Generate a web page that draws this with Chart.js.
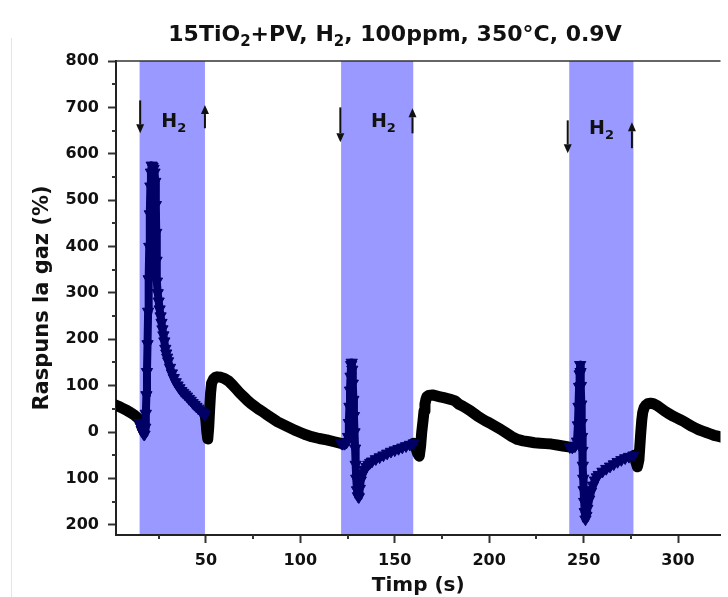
<!DOCTYPE html>
<html><head><meta charset="utf-8">
<script src="https://cdn.jsdelivr.net/npm/chart.js@4.4.1/dist/chart.umd.min.js"></script>
<style>html,body{margin:0;padding:0;background:#fff;overflow:hidden}canvas{display:block}</style>
</head><body>
<canvas id="c" width="728" height="597"></canvas>
<script>
// ---- data ----
const xTicks = [50, 100, 150, 200, 250, 300];
const xMinorTicks = [25, 75, 125, 175, 225, 275];
const yTicks = [-200, -100, 0, 100, 200, 300, 400, 500, 600, 700, 800];
const yMinorTicks = [-150, -50, 50, 150, 250, 350, 450, 550, 650, 750];

// H2 exposure windows (s)
const bandStart = [14.9, 121.6, 242.4];
const bandEnd = [49.5, 159.8, 276.4];

// air (black) series: time (s) and response (%) ; null = gap
const airTime = [2.4,4,6,8,10,12,14,15,16, 30,
  49.5,50,50.5,51,51.5,52,52.5,53,54,55,56,58,60,62,64,66,68,70,72,74,76,78,80,82,85,88,91,94,97,100,103,106,110,114,118,121,123, 140,
  160,161,162,163,163.7,164.3,165,165.5,166,166.5,167,168,170,172,174,176,178,180,182,184,186,188,190,192,194,196,198,200,203,206,209,212,215,218,221,224,227,230,233,236,239,242,244, 260,
  276.7,277.5,278.5,279.3,279.8,280.3,280.8,281.3,282,283,284,285.5,287,289,291,293,295,297,299,301,303,305,307,309,311,313,315,317,319,321,323];
const airResponse = [58,55,51,47,42,37,30,25,18, null,
  40,25,0,-15,10,50,85,105,114,118,119,118,115,110,102,93,84,76,68,61,55,49,44,38,30,22,16,10,4,-1,-6,-10,-14,-17,-21,-24,-25, null,
  -24,-32,-45,-52,-30,0,25,45,60,70,76,79,80,78,76,74,72,70,67,60,56,51,46,40,34,29,24,20,13,6,-2,-10,-16,-19,-21,-23,-24,-25,-26,-28,-30,-32,-33, null,
  -50,-62,-75,-60,-30,0,25,42,52,58,61,62,61,57,51,45,40,35,31,27,23,18,13,9,5,2,-1,-4,-7,-9,-11];

// H2 (navy) series: time (s) and response (%) ; null = gap
const h2Time = [15.0,15.5,16.0,16.5,17.0,17.5,17.9,18.2,18.5,18.8,19.1,19.4,19.7,20.0,20.3,20.6,20.9,21.3,21.8,22.3,22.8,23.2,23.5,23.7,23.9,24.1,24.5,25.0,25.5,26.0,26.5,27.0,27.5,28.0,28.5,29.0,29.5,30,31,32,33,34,35,36,37,38,39,40,41,42,43,44,45,46,47,48,49,49.5, 90,
  121.7,122.5,123.5,124.5,125.3,125.7,126.0,126.3,126.6,126.9,127.2,127.5,127.8,128.1,128.4,128.7,129.0,129.3,129.6,130.0,130.5,131.0,131.5,132,133,134,135,136,137,138,140,142,144,146,148,150,152,154,156,158,160, 200,
  242.7,244,245.5,246.5,247.0,247.3,247.6,247.9,248.2,248.4,248.6,248.8,249.0,249.2,249.4,249.6,249.8,250.0,250.3,250.6,251.0,251.5,252,253,254,255,256,257,258,260,262,264,266,268,270,272,274,276.4];
const h2Response = [20,12,5,0,-4,-5,10,40,80,130,190,260,330,400,470,530,560,575,572,568,560,540,490,430,370,325,300,282,265,250,236,222,209,196,180,170,161,153,139,127,117,108,101,95,89,85,81,77,72,68,63,59,55,51,47,43,40,38, null,
  -24,-25,-25,-22,-10,20,55,90,120,145,150,135,105,70,35,0,-35,-70,-100,-125,-138,-140,-122,-104,-90,-81,-75,-70,-66,-63,-58,-54,-50,-46,-42,-39,-36,-33,-30,-27,-24, null,
  -32,-33,-30,-20,15,55,98,125,145,130,100,60,20,-10,-40,-72,-100,-125,-150,-172,-188,-180,-165,-145,-128,-115,-104,-97,-92,-85,-79,-74,-69,-64,-60,-56,-53,-50];

const FONT = "'DejaVu Sans', 'Liberation Sans', sans-serif";

const airPoints = airTime.map((t, i) => ({x: t, y: airResponse[i]}));
const h2Points = h2Time.map((t, i) => ({x: t, y: h2Response[i]}));

function arrow(ctx, x, yTail, yHead) {
  const dir = yHead > yTail ? 1 : -1;
  const head = 9;
  ctx.beginPath();
  ctx.moveTo(x, yTail);
  ctx.lineTo(x, yHead - dir * head);
  ctx.stroke();
  ctx.beginPath();
  ctx.moveTo(x - 4, yHead - dir * head);
  ctx.lineTo(x + 4, yHead - dir * head);
  ctx.lineTo(x, yHead);
  ctx.closePath();
  ctx.fill();
}

function drawRich(ctx, parts, cx, baseline, size, subSize, subDrop) {
  const widths = parts.map(p => {
    ctx.font = 'bold ' + (p.sub ? subSize : size) + 'px ' + FONT;
    return ctx.measureText(p.t).width;
  });
  const total = widths.reduce((a, b) => a + b, 0);
  let x = cx - total / 2;
  ctx.textAlign = 'left';
  ctx.textBaseline = 'alphabetic';
  parts.forEach((p, i) => {
    ctx.font = 'bold ' + (p.sub ? subSize : size) + 'px ' + FONT;
    ctx.fillText(p.t, x, baseline + (p.sub ? subDrop : 0));
    x += widths[i];
  });
}

const deco = {
  id: 'deco',
  beforeDatasetsDraw(chart) {
    const {ctx, chartArea: a, scales: {x}} = chart;
    ctx.save();
    ctx.fillStyle = '#9999ff';
    bandStart.forEach((s, i) => {
      const x0 = x.getPixelForValue(s), x1 = x.getPixelForValue(bandEnd[i]);
      ctx.fillRect(x0, a.top, x1 - x0, a.bottom - a.top - 1);
    });
    ctx.restore();
  },
  afterDraw(chart) {
    const {ctx, chartArea: a, scales: {x, y}} = chart;
    ctx.save();
    // faint page edge
    ctx.strokeStyle = '#e4e4e4';
    ctx.lineWidth = 1;
    ctx.beginPath(); ctx.moveTo(11.5, 38); ctx.lineTo(11.5, 597); ctx.stroke();
    // top frame
    ctx.strokeStyle = '#333';
    ctx.lineWidth = 1.5;
    ctx.beginPath(); ctx.moveTo(a.left, a.top); ctx.lineTo(a.right, a.top); ctx.stroke();
    // minor ticks
    ctx.strokeStyle = '#333';
    ctx.lineWidth = 2;
    xMinorTicks.forEach(v => {
      const px = Math.round(x.getPixelForValue(v));
      ctx.beginPath(); ctx.moveTo(px, a.bottom); ctx.lineTo(px, a.bottom + 4); ctx.stroke();
    });
    yMinorTicks.forEach(v => {
      const py = Math.round(y.getPixelForValue(v));
      ctx.beginPath(); ctx.moveTo(a.left, py); ctx.lineTo(a.left - 4, py); ctx.stroke();
    });
    // gas on / off arrows and labels
    ctx.strokeStyle = '#111';
    ctx.fillStyle = '#111';
    ctx.lineWidth = 2;
    const arrows = [
      [15.2, 715, 644, 49.5, 655, 705, 33, 672],
      [121.2, 700, 625, 159.4, 644, 698, 144, 672],
      [241.6, 672, 601, 275.6, 612, 668, 259.5, 657]
    ];
    arrows.forEach(r => {
      arrow(ctx, x.getPixelForValue(r[0]), y.getPixelForValue(r[1]), y.getPixelForValue(r[2]));
      arrow(ctx, x.getPixelForValue(r[3]), y.getPixelForValue(r[4]), y.getPixelForValue(r[5]));
      drawRich(ctx, [{t: 'H'}, {t: '2', sub: true}], x.getPixelForValue(r[6]), y.getPixelForValue(r[7]) + 7, 19, 13, 5);
    });
    // title
    ctx.fillStyle = '#111';
    drawRich(ctx, [{t: '15TiO'}, {t: '2', sub: true}, {t: '+PV, H'}, {t: '2', sub: true}, {t: ', 100ppm, 350°C, 0.9V'}],
      395, 41, 22, 15, 5);
    ctx.restore();
  }
};

new Chart(document.getElementById('c'), {
  type: 'line',
  data: {
    datasets: [
      {
        label: 'H2',
        data: h2Points,
        order: 0,
        borderColor: '#000066',
        backgroundColor: '#000066',
        borderWidth: 8,
        borderJoinStyle: 'round',
        borderCapStyle: 'round',
        pointStyle: 'triangle',
        rotation: 180,
        pointRadius: 6.5,
        pointBorderWidth: 1,
        pointBackgroundColor: '#000066',
        pointBorderColor: '#000066',
        spanGaps: false,
        tension: 0
      },
      {
        label: 'aer',
        data: airPoints,
        order: 1,
        borderColor: '#000000',
        backgroundColor: '#000000',
        borderWidth: 11,
        borderJoinStyle: 'round',
        borderCapStyle: 'round',
        pointRadius: 0,
        spanGaps: false,
        tension: 0
      }
    ]
  },
  options: {
    responsive: false,
    animation: false,
    devicePixelRatio: 1,
    layout: {padding: {top: 61, left: 0, right: 0, bottom: 0}},
    plugins: {legend: {display: false}, tooltip: {enabled: false}, title: {display: false}},
    scales: {
      x: {
        type: 'linear',
        min: 2.4,
        max: 322.5,
        afterBuildTicks: s => { s.ticks = xTicks.map(v => ({value: v})); },
        afterFit: s => { s.height = 62; },
        grid: {drawOnChartArea: false, drawTicks: true, tickLength: 8, tickWidth: 2, tickColor: '#333'},
        border: {display: true, color: '#222', width: 2},
        ticks: {color: '#111', padding: 8, maxRotation: 0, autoSkip: false,
          font: {family: FONT, weight: 'bold', size: 16}},
        title: {display: true, text: 'Timp (s)', color: '#111', padding: {top: 0, bottom: -1},
          font: {family: FONT, weight: 'bold', size: 20}}
      },
      y: {
        type: 'linear',
        min: -222,
        max: 800,
        afterBuildTicks: s => { s.ticks = yTicks.map(v => ({value: v})); },
        afterFit: s => { s.width = 116; },
        grid: {drawOnChartArea: false, drawTicks: true, tickLength: 8, tickWidth: 2, tickColor: '#333'},
        border: {display: true, color: '#222', width: 2},
        ticks: {color: '#111', padding: 9, autoSkip: false,
          callback: v => String(Math.abs(v)),
          font: {family: FONT, weight: 'bold', size: 16}},
        title: {display: true, text: 'Raspuns la gaz (%)', color: '#111', padding: {top: 30, bottom: 0},
          font: {family: FONT, weight: 'bold', size: 21}}
      }
    }
  },
  plugins: [deco]
});
</script>
</body></html>
